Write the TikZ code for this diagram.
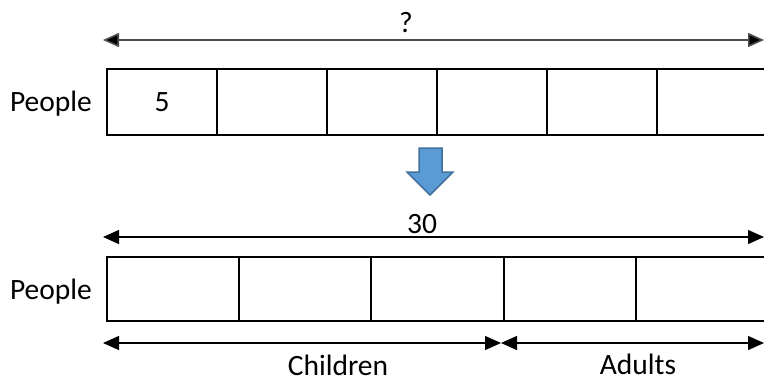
\documentclass[tikz,border=0pt]{standalone}
\usepackage{fontspec}
\setmainfont{Carlito}
\usetikzlibrary{arrows.meta}
\definecolor{arrowfill}{HTML}{5B9BD5}
\definecolor{arrowedge}{HTML}{41719C}
\begin{document}
\begin{tikzpicture}[x=1pt,y=-1pt,
  topcell/.style={draw=black,line width=2pt,minimum width=110pt,minimum height=66pt,inner sep=0pt,outer sep=0pt},
  botcell/.style={draw=black,line width=2pt,minimum width=132.2pt,minimum height=64pt,inner sep=0pt,outer sep=0pt},
  lbl/.style={font=\fontsize{29.5}{34}\selectfont,inner sep=0pt,anchor=base},
  tipshape/.style={},
  dim/.style={draw=black!70,line width=1.6pt,{Triangle[length=16pt,width=14pt,fill=black]}-{Triangle[length=16pt,width=14pt,fill=black]}},
  dimb/.style={draw=black,line width=1.3pt,{Triangle[length=16pt,width=14pt]}-{Triangle[length=16pt,width=14pt]}}
]
\useasboundingbox (0,0) rectangle (764,381);
\clip (0,0) rectangle (764,381);
% top bar
\foreach \i in {0,...,5} {
  \node[topcell] (t\i) at ({162+110*\i},102) {};
}
\node[lbl] (five) at (162,111) {5};
\node[lbl] (p1) at (51,111) {People};
\coordinate (ta) at (103,40);
\coordinate (tb) at (764,40);
\draw[dim] (ta) -- (tb);
\node[lbl] (q) at (406,32) {?};
% blue arrow
\draw[fill=arrowfill,draw=arrowedge,line width=1.5pt,line join=miter]
  (419,148) -- (442,148) -- (442,172) -- (453,172) -- (430,195) -- (407,172) -- (419,172) -- cycle;
% bottom bar
\foreach \i in {0,...,4} {
  \node[botcell] (b\i) at ({173.1+132.2*\i},289) {};
}
\node[lbl] (p2) at (51,299) {People};
\coordinate (ba) at (103,237);
\coordinate (bb) at (764,237);
\draw[dimb] (ba) -- (bb);
\node[lbl] (thirty) at (422,233) {30};
\coordinate (ca) at (103,343);
\coordinate (cm) at (501,343);
\coordinate (cb) at (764,343);
\draw[dimb] (ca) -- (cm);
\draw[dimb] (cm) -- (cb);
\node[lbl] (kids) at (338,375) {Children};
\node[lbl] (adults) at (638,374) {Adults};
\end{tikzpicture}
\end{document}
